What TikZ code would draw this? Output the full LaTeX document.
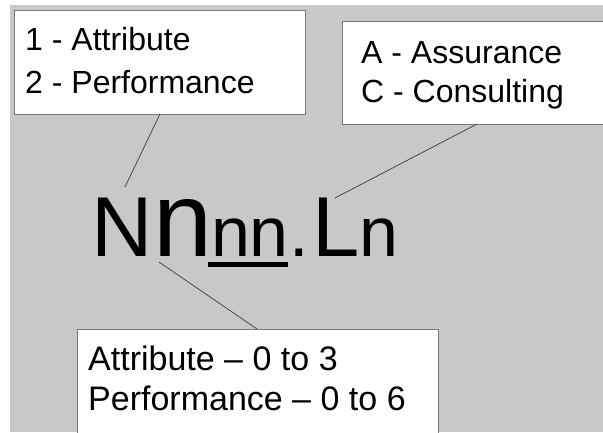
\documentclass[tikz,border=0pt]{standalone}
\usepackage{fontspec}
\setmainfont{Liberation Sans}
\definecolor{bggray}{RGB}{200,200,200}
\definecolor{boxline}{RGB}{120,120,120}
\definecolor{leadercol}{RGB}{60,60,60}
\begin{document}
\begin{tikzpicture}[x=1pt,y=-1pt,
  box/.style={draw=boxline,line width=0.9pt,fill=white,anchor=north west,inner sep=0pt,outer sep=0pt},
  lbl/.style={anchor=base west,inner sep=0pt,font=\fontsize{32}{38}\selectfont},
  lblb/.style={anchor=base west,inner sep=0pt,font=\fontsize{34}{40}\selectfont},
  big/.style={anchor=base,inner sep=0pt},
  leader/.style={draw=leadercol,line width=0.7pt}]
\useasboundingbox (0,0) rectangle (603,432);
\clip (0,0) rectangle (603,432);
\fill[white] (0,0) rectangle (603,432);
\fill[bggray] (10,5) rectangle (603,432);
% boxes
\node[box,minimum width=291pt,minimum height=104pt] (box1) at (14,10) {};
\node[box,minimum width=300pt,minimum height=103pt] (box2) at (342,21) {};
\node[box,minimum width=361pt,minimum height=130pt] (box3) at (77,329) {};
% box texts
\node[lbl] (t11) at (25,50) {1 - Attribute};
\node[lbl] (t12) at (25,93) {2 - Performance};
\node[lbl] (t21) at (361,63) {A - Assurance};
\node[lbl] (t22) at (361,102) {C - Consulting};
\node[lblb] (t31) at (88,370) {Attribute -- 0 to 3};
\node[lblb] (t32) at (88,410) {Performance -- 0 to 6};
% main code
\node[big,font=\fontsize{85}{85}\selectfont] (N) at (122.5,256) {N};
\node[big,font=\fontsize{106}{106}\selectfont] (n1) at (182.5,256) {n};
\node[big,font=\fontsize{70}{70}\selectfont] (nn) at (250,256) {nn};
\fill ([xshift=-3pt,yshift=-6pt]nn.base west) rectangle ([xshift=-1pt,yshift=-11pt]nn.base east);
\node[big,font=\fontsize{70}{70}\selectfont] (dot) at (299,256) {.};
\node[big,font=\fontsize{85}{85}\selectfont] (L) at (336,256) {L};
\node[big,font=\fontsize{70}{70}\selectfont] (n2) at (378.5,256) {n};
% leaders
\coordinate (e1) at (125,187);
\coordinate (e2) at (335,198);
\coordinate (e3) at (159,262);
\draw[leader] ([xshift=146pt]box1.south west) -- (e1);
\draw[leader] ([xshift=135pt]box2.south west) -- (e2);
\draw[leader] (e3) -- ([xshift=180pt]box3.north west);
\end{tikzpicture}
\end{document}
